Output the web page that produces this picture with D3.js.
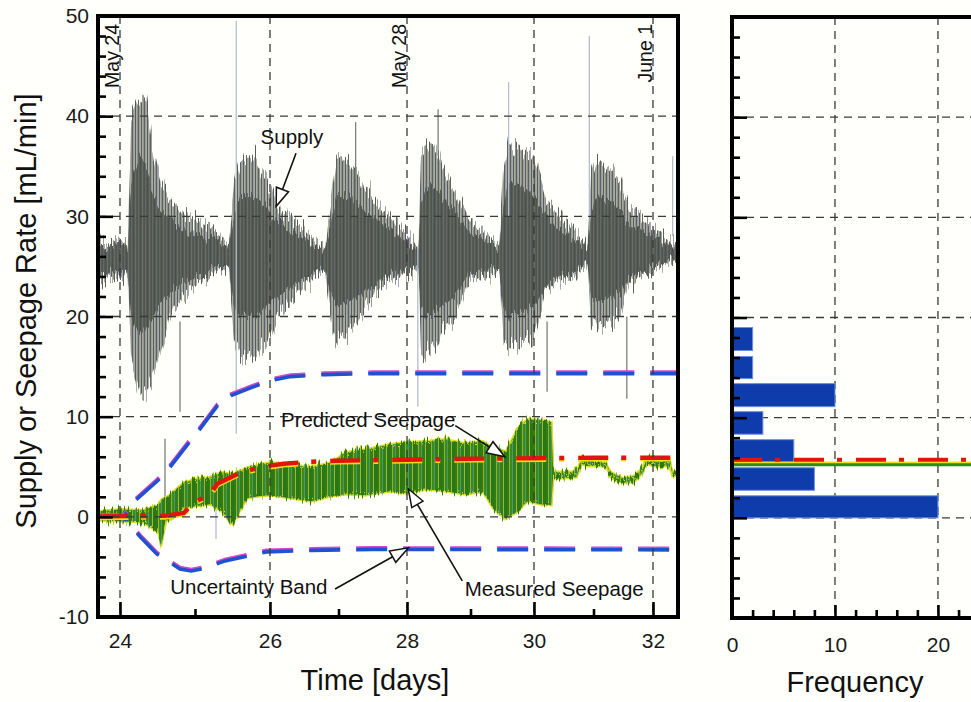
<!DOCTYPE html>
<html>
<head>
<meta charset="utf-8">
<script src="https://cdn.jsdelivr.net/npm/d3@7"></script>
<style>
  body { margin: 0; background: #fff; }
  svg { display: block; font-family: "Liberation Sans", Arial, sans-serif; }
</style>
</head>
<body>
<svg id="chart" width="971" height="702"></svg>
<script>
// ---- data ----
// supply rate (mL/min) vs time (days): outer envelope of the spikes and the dense core
var supplyT  = [23.71,23.85,24.0,24.1,24.15,24.25,24.35,24.45,24.55,24.7,24.85,25.05,25.2,25.35,25.45,25.52,25.6,25.8,25.95,26.1,26.3,26.45,26.65,26.8,26.9,26.97,27.15,27.4,27.7,27.9,28.1,28.18,28.22,28.3,28.45,28.55,28.75,28.95,29.2,29.45,29.52,29.6,29.8,30.0,30.2,30.45,30.7,30.9,30.96,31.05,31.3,31.45,31.6,31.8,32.03,32.3,32.42];
var supplyHi = [27.5,27.0,28.0,27.0,40.0,41.8,41.5,36.0,33.0,31.5,30.0,29.5,29.0,28.0,27.0,33.0,35.5,35.8,34.0,31.0,29.8,29.0,27.5,26.8,32.0,36.0,35.5,32.7,30.4,29.0,27.5,27.0,36.5,37.4,37.0,35.0,32.7,30.0,28.5,27.0,35.0,37.4,36.5,36.0,32.0,30.0,28.4,27.0,34.0,35.7,34.5,33.5,31.0,30.0,28.7,27.4,27.0];
var supplyLo = [23.0,24.0,23.5,24.5,15.0,12.2,12.5,14.0,17.0,20.5,22.0,23.4,24.0,24.7,25.0,18.0,16.5,16.0,17.0,19.8,21.5,22.7,24.0,24.8,19.0,17.8,18.2,21.0,23.4,24.0,24.5,25.0,16.5,16.0,17.0,18.5,19.5,23.4,24.0,24.6,17.5,16.8,17.5,18.0,22.7,23.5,24.0,25.4,19.5,18.8,19.5,20.0,23.4,24.0,24.7,25.7,25.5];
var coreHi   = [27.0,26.8,27.2,26.8,33.0,36.0,35.0,32.0,30.5,29.5,28.5,28.0,27.8,27.3,26.8,30.0,32.0,32.0,31.0,29.5,28.5,28.0,27.0,26.6,29.5,32.0,32.0,30.5,29.0,28.0,27.0,26.8,31.0,33.0,33.0,32.0,30.5,28.5,27.5,26.8,31.0,33.5,33.0,32.0,30.0,28.5,27.5,26.8,30.0,32.0,31.5,30.5,29.0,28.5,27.8,27.0,26.8];
var coreLo   = [24.0,24.5,24.3,24.8,20.0,18.0,19.0,20.0,21.5,22.5,23.5,24.0,24.5,25.0,25.2,21.0,20.0,20.0,21.0,22.0,23.0,23.5,24.5,25.0,22.0,21.0,21.5,22.5,24.0,24.5,25.0,25.2,21.0,20.0,20.5,21.0,22.0,24.0,24.5,25.0,21.0,20.0,20.5,21.0,23.0,24.0,24.5,25.5,22.0,21.5,22.0,22.5,24.0,24.5,25.0,25.8,25.8];
// isolated spikes: time, top, bottom
var spikeT   = [24.8,25.55,27.25,28.17,28.49,29.6,30.22,30.93,31.56,32.33,24.6,25.28];
var spikeTop = [19.5,49.5,39.4,27.0,40.7,43.4,19.5,48.0,20.0,36.0,7.8,4.5];
var spikeBot = [10.5,8.3,30.0,11.0,36.0,30.0,12.5,30.0,11.8,28.0,-1.2,-2.2];

// measured seepage envelope
var seepT  = [23.71,24.0,24.3,24.5,24.55,24.62,24.7,24.85,25.0,25.2,25.35,25.5,25.7,25.85,26.0,26.3,26.6,26.9,27.1,27.4,27.75,28.0,28.3,28.6,28.9,29.2,29.35,29.55,29.75,29.9,30.1,30.3,30.33,30.5,30.72,30.8,30.9,31.2,31.3,31.5,31.7,31.82,31.88,32.0,32.28,32.32,32.42];
var seepHi = [0.6,0.8,0.7,1.2,1.8,2.0,2.5,3.5,3.8,4.0,4.5,4.3,5.0,5.2,5.5,5.3,5.0,5.5,6.5,6.8,7.3,7.5,7.6,7.8,7.4,7.6,7.0,6.6,9.0,9.8,9.7,9.5,4.6,4.5,4.6,6.1,5.6,5.5,4.5,3.9,4.2,5.0,6.0,5.8,5.7,4.6,4.5];
var seepLo = [-0.4,-0.5,-0.6,-1.5,-2.9,-0.5,-0.2,0.8,1.0,1.2,0.5,-0.8,1.8,2.0,2.1,1.8,1.5,2.0,2.2,2.1,2.5,2.3,2.7,2.5,2.2,2.4,0.8,-0.3,0.5,1.5,1.2,1.1,3.8,3.8,3.9,5.2,5.0,5.0,3.8,3.3,3.5,4.3,5.3,5.0,5.0,4.0,4.0];

// predicted seepage
var predT = [23.71,24.6,24.85,25.0,25.2,25.3,25.6,25.9,26.2,26.6,27.0,28.0,29.0,30.0,31.0,32.42];
var predV = [0.05,0.1,0.4,1.5,2.2,3.3,4.4,5.0,5.3,5.5,5.6,5.7,5.8,5.85,5.9,5.9];

// uncertainty band
var bandUpT = [23.71,24.05,24.2,24.5,24.65,24.93,25.05,25.3,25.48,25.75,26.0,26.3,26.8,27.5,32.42];
var bandUpV = [0,0,1.6,3.6,4.8,7.5,8.6,11.1,12.1,12.9,13.6,14.0,14.2,14.3,14.3];
var bandLoT = [23.71,24.05,24.27,24.49,24.8,24.95,25.1,25.4,25.95,26.6,27.5,32.42];
var bandLoV = [0,0,-2.0,-3.7,-5.2,-5.4,-5.2,-4.4,-3.5,-3.35,-3.25,-3.3];

// histogram of seepage rate
var binLow   = [0, 2.75, 5.55, 8.35, 11.1, 13.9, 16.7];
var binHigh  = [2.2, 5.0, 7.8, 10.6, 13.4, 16.1, 19.0];
var binCount = [20, 8, 6, 3, 10, 2, 2];
var histPredMean = 5.8, histMeasMean = 5.3;

// ticks and labels
var xTicks = [24, 26, 28, 30, 32];
var xMinor = [25, 27, 29, 31];
var yTicks = [-10, 0, 10, 20, 30, 40, 50];
var yMinor = d3.range(-10, 51, 2).filter(function (v) { return v % 10 !== 0; });
var fTicks = [0, 10, 20];
var fMinor = [2, 4, 6, 8, 12, 14, 16, 18, 22];
var dateDay = [24, 28, 32];
var dateLab = ["May 24", "May 28", "June 1"];

// annotations: [text, textDay, textVal, anchor, fromDay, fromVal, tipDay, tipVal]
var notes = [
  ["Supply", 26.32, 37.2, "middle", 26.38, 36.3, 26.09, 31.0],
  ["Predicted Seepage", 26.16, 9.0, "start", 28.76, 9.1, 29.54, 6.0],
  ["Measured Seepage", 28.91, -7.9, "start", 28.87, -6.4, 28.02, 2.8],
  ["Uncertainty Band", 24.67, -7.7, "start", 26.95, -7.2, 28.02, -3.1]
];

// ---- scales ----
// the scanned time axis is slightly uneven, so calibrate on the printed ticks
var x = d3.scaleLinear().domain([23.71, 24, 26, 28, 30, 32, 32.42]).range([98, 120, 270, 407, 534, 653, 678]);
var y = d3.scaleLinear().domain([-10, 50]).range([617, 16]);
var yR = d3.scaleLinear().domain([-10, 50]).range([618, 17]);
var f = d3.scaleLinear().domain([0, 23.5]).range([732, 974]);

var svg = d3.select("#chart");
svg.append("rect").attr("width", 971).attr("height", 702).attr("fill", "#fffffb");

var defs = svg.append("defs");
defs.append("clipPath").attr("id", "clipL").append("rect")
  .attr("x", 98).attr("y", 16).attr("width", 580).attr("height", 601);

// streaky look of a densely sampled noisy trace (columns shifted up/down)
function streakFilter(id, freq, scale, seed) {
  var fl = defs.append("filter").attr("id", id).attr("x", 0).attr("y", "-20%").attr("width", 1).attr("height", "140%")
    .attr("color-interpolation-filters", "sRGB");
  fl.append("feTurbulence").attr("type", "fractalNoise").attr("baseFrequency", freq).attr("numOctaves", 2).attr("seed", seed).attr("result", "n");
  fl.append("feColorMatrix").attr("in", "n").attr("type", "matrix")
    .attr("values", "1 0 0 0 0  0 0 0 0 0.5  0 0 0 0 0  0 0 0 0 1").attr("result", "m");
  fl.append("feDisplacementMap").attr("in", "SourceGraphic").attr("in2", "m").attr("scale", scale)
    .attr("xChannelSelector", "G").attr("yChannelSelector", "R");
}
streakFilter("streakO", "0.6 0.004", 40, 3);
streakFilter("streakC", "0.45 0.01", 22, 7);
streakFilter("streakG", "0.5 0.01", 16, 5);

var pO = defs.append("pattern").attr("id", "texOuter").attr("patternUnits", "userSpaceOnUse")
  .attr("width", 6).attr("height", 40);
[[0, 1.6, "#5d625d"], [1.8, 1, "#8f94a2"], [3.0, 1.5, "#585d58"], [4.6, 0.7, "#a9ab89"], [5.3, 0.7, "#6a6f69"]]
  .forEach(function (s) { pO.append("rect").attr("x", s[0]).attr("width", s[1]).attr("height", 40).attr("fill", s[2]); });

var pS = defs.append("pattern").attr("id", "texSupply").attr("patternUnits", "userSpaceOnUse")
  .attr("width", 7).attr("height", 20);
[[0, 1.6, "#4b504b"], [1.6, 1, "#5d625c"], [2.6, 0.7, "#7c8176"], [3.3, 1.7, "#505550"], [5, 0.7, "#6e7380"], [5.7, 1.3, "#575c56"]]
  .forEach(function (s) { pS.append("rect").attr("x", s[0]).attr("width", s[1]).attr("height", 20).attr("fill", s[2]); });

var pG = defs.append("pattern").attr("id", "texSeep").attr("patternUnits", "userSpaceOnUse")
  .attr("width", 13).attr("height", 20);
[[0, 2.2, "#2e7c17"], [2.2, 0.7, "#c9cf2c"], [2.9, 2.6, "#3a8a1e"], [5.5, 0.6, "#5fa8c6"], [6.1, 3.1, "#327f1a"], [9.2, 0.8, "#b8c63a"], [10, 3, "#2b7715"]]
  .forEach(function (s) { pG.append("rect").attr("x", s[0]).attr("width", s[1]).attr("height", 20).attr("fill", s[2]); });

var gL = svg.append("g").attr("clip-path", "url(#clipL)");
var areaOuter = d3.area().x(function (d) { return x(d.t); }).y0(function (d) { return y(d.lo); }).y1(function (d) { return y(d.hi); });
var areaCore = d3.area().x(function (d) { return x(d.t); }).y0(function (d) { return y(d.cl); }).y1(function (d) { return y(d.ch); });

// supply
var supplyData = supplyT.map(function (t, i) { return { t: t, hi: supplyHi[i], lo: supplyLo[i], ch: coreHi[i], cl: coreLo[i] }; });
gL.append("g").attr("filter", "url(#streakO)").append("path").datum(supplyData)
  .attr("d", areaOuter).attr("fill", "url(#texOuter)");
var gCore = gL.append("g").attr("filter", "url(#streakC)");
gCore.append("path").datum(supplyData).attr("d", areaCore).attr("fill", "#575c57");
gCore.append("path").datum(supplyData).attr("d", areaCore).attr("fill", "url(#texSupply)");

var spikes = spikeT.map(function (t, i) { return { t: t, top: spikeTop[i], bot: spikeBot[i], i: i }; });
gL.selectAll(".spike").data(spikes).enter().append("line").attr("class", "spike")
  .attr("x1", function (d) { return x(d.t); }).attr("x2", function (d) { return x(d.t); })
  .attr("y1", function (d) { return y(d.top); }).attr("y2", function (d) { return y(d.bot); })
  .attr("stroke", function (d) { return d.i % 2 ? "#b8bccb" : "#7b807a"; }).attr("stroke-width", 1.3);

// measured seepage
var seepData = seepT.map(function (t, i) { return { t: t, hi: seepHi[i], lo: seepLo[i] }; });
gL.append("path").datum(seepData).attr("d", areaOuter)
  .attr("fill", "#358519").attr("stroke", "#dede30").attr("stroke-width", 1.4);
gL.append("g").attr("filter", "url(#streakG)").append("path").datum(seepData)
  .attr("d", areaOuter).attr("fill", "url(#texSeep)").attr("stroke", "#dede30").attr("stroke-width", 1);

// grid
var grid = svg.append("g").attr("stroke", "#3a3a3a").attr("stroke-width", 1.3).attr("stroke-dasharray", "8,6").attr("fill", "none");
grid.selectAll(".gx").data(xTicks).enter().append("line")
  .attr("x1", x).attr("x2", x).attr("y1", 16).attr("y2", 617);
grid.selectAll(".gy").data(yTicks.slice(1, -1)).enter().append("line")
  .attr("x1", 98).attr("x2", 678).attr("y1", y).attr("y2", y);

// uncertainty band
var lineXY = d3.line().x(function (d) { return x(d[0]); }).y(function (d) { return y(d[1]); });
[[bandUpT, bandUpV], [bandLoT, bandLoV]].forEach(function (b) {
  var pts = b[0].map(function (t, i) { return [t, b[1][i]]; });
  gL.append("path").datum(pts).attr("d", lineXY).attr("fill", "none")
    .attr("stroke", "#d548c8").attr("stroke-width", 4).attr("stroke-dasharray", "31,16")
    .attr("transform", "translate(0,-1.3)");
  gL.append("path").datum(pts).attr("d", lineXY).attr("fill", "none")
    .attr("stroke", "#1f52d2").attr("stroke-width", 3.6).attr("stroke-dasharray", "31,16");
});

// predicted seepage
var predPts = predT.map(function (t, i) { return [t, predV[i]]; });
gL.append("path").datum(predPts).attr("d", lineXY).attr("fill", "none")
  .attr("stroke", "#ecdf1c").attr("stroke-width", 4).attr("stroke-dasharray", "30,13,5,14")
  .attr("transform", "translate(0,1.8)");
gL.append("path").datum(predPts).attr("d", lineXY).attr("fill", "none")
  .attr("stroke", "#e2150e").attr("stroke-width", 4.4).attr("stroke-dasharray", "30,13,5,14");

// date labels
svg.selectAll(".date").data(dateDay).enter().append("text")
  .attr("transform", function (d) { return "translate(" + (x(d) - 1) + ",24) rotate(-90)"; })
  .attr("text-anchor", "end").attr("font-size", 19.5).attr("fill", "#111")
  .text(function (d, i) { return dateLab[i]; });

// annotations
function arrow(g, x1, y1, x2, y2) {
  var dx = x2 - x1, dy = y2 - y1, L = Math.hypot(dx, dy), ux = dx / L, uy = dy / L;
  var hl = 18, hw = 6.5, bx = x2 - ux * hl, by = y2 - uy * hl;
  g.append("line").attr("x1", x1).attr("y1", y1).attr("x2", bx).attr("y2", by)
    .attr("stroke", "#111").attr("stroke-width", 1.6);
  g.append("path").attr("d", "M" + x2 + "," + y2 + "L" + (bx - uy * hw) + "," + (by + ux * hw) + "L" + (bx + uy * hw) + "," + (by - ux * hw) + "Z")
    .attr("fill", "#fff").attr("stroke", "#111").attr("stroke-width", 1.5);
}
var gN = svg.append("g");
notes.forEach(function (n) {
  gN.append("text").attr("x", x(n[1])).attr("y", y(n[2])).attr("text-anchor", n[3])
    .attr("font-size", 20.5).attr("fill", "#111").text(n[0]);
  arrow(gN, x(n[4]), y(n[5]), x(n[6]), y(n[7]));
});

// ---- histogram panel ----
var gR = svg.append("g");
var gridR = gR.append("g").attr("stroke", "#3a3a3a").attr("stroke-width", 1.3).attr("stroke-dasharray", "8,6");
gridR.selectAll("line.v").data([10, 20]).enter().append("line")
  .attr("x1", f).attr("x2", f).attr("y1", 17).attr("y2", 618);
gridR.selectAll("line.h").data(yTicks.slice(1, -1)).enter().append("line")
  .attr("x1", 732).attr("x2", 971).attr("y1", yR).attr("y2", yR);

gR.selectAll(".bar").data(binCount).enter().append("rect")
  .attr("x", f(0)).attr("width", function (d) { return f(d) - f(0); })
  .attr("y", function (d, i) { return yR(binHigh[i]); })
  .attr("height", function (d, i) { return yR(binLow[i]) - yR(binHigh[i]); })
  .attr("fill", "#0e3caa").attr("stroke", "#6b8ee0").attr("stroke-width", 1);

gR.append("line").attr("x1", 732).attr("x2", 971).attr("y1", yR(histMeasMean) - 2).attr("y2", yR(histMeasMean) - 2)
  .attr("stroke", "#e6e01e").attr("stroke-width", 2.5);
gR.append("line").attr("x1", 732).attr("x2", 971).attr("y1", yR(histMeasMean)).attr("y2", yR(histMeasMean))
  .attr("stroke", "#2f8a1e").attr("stroke-width", 3);
gR.append("line").attr("x1", 732).attr("x2", 971).attr("y1", yR(histPredMean)).attr("y2", yR(histPredMean))
  .attr("stroke", "#e2150e").attr("stroke-width", 4).attr("stroke-dasharray", "30,13,5,14");

// ---- axes and frames ----
function styleAxis(g) {
  g.select(".domain").remove();
  g.selectAll(".tick line").attr("stroke", "#000").attr("stroke-width", 2.6);
  g.selectAll(".tick text").attr("font-size", 21).attr("fill", "#1a1a1a")
    .attr("font-family", "Liberation Sans, Arial, sans-serif");
}
var plain = function (d) { return String(d); };
svg.append("g").attr("transform", "translate(98,0)")
  .call(d3.axisLeft(y).tickValues(yTicks).tickSize(-15).tickPadding(9).tickFormat(plain)).call(styleAxis);
svg.append("g").attr("transform", "translate(98,0)")
  .call(d3.axisLeft(y).tickValues(yMinor).tickSize(-8).tickFormat("")).call(styleAxis);
svg.append("g").attr("transform", "translate(0,617)")
  .call(d3.axisBottom(x).tickValues(xTicks).tickSize(-15).tickPadding(16).tickFormat(plain)).call(styleAxis);
svg.append("g").attr("transform", "translate(0,617)")
  .call(d3.axisBottom(x).tickValues(xMinor).tickSize(-8).tickFormat("")).call(styleAxis);

svg.append("g").attr("transform", "translate(732,0)")
  .call(d3.axisLeft(yR).tickValues(yTicks).tickSize(-15).tickFormat("")).call(styleAxis);
svg.append("g").attr("transform", "translate(732,0)")
  .call(d3.axisLeft(yR).tickValues(yMinor).tickSize(-8).tickFormat("")).call(styleAxis);
svg.append("g").attr("transform", "translate(0,618)")
  .call(d3.axisBottom(f).tickValues(fTicks).tickSize(-13).tickPadding(19).tickFormat(plain)).call(styleAxis);
svg.append("g").attr("transform", "translate(0,618)")
  .call(d3.axisBottom(f).tickValues(fMinor).tickSize(-8).tickFormat("")).call(styleAxis);

svg.append("rect").attr("x", 98).attr("y", 16).attr("width", 580).attr("height", 601)
  .attr("fill", "none").attr("stroke", "#000").attr("stroke-width", 4);
svg.append("path").attr("d", "M975,17H732V618H975")
  .attr("fill", "none").attr("stroke", "#000").attr("stroke-width", 4);

// titles
svg.append("text").attr("transform", "translate(36,311) rotate(-90)").attr("text-anchor", "middle")
  .attr("font-size", 29).attr("fill", "#111").text("Supply or Seepage Rate [mL/min]");
svg.append("text").attr("x", 375).attr("y", 690).attr("text-anchor", "middle")
  .attr("font-size", 29).attr("fill", "#111").text("Time [days]");
svg.append("text").attr("x", 855).attr("y", 692).attr("text-anchor", "middle")
  .attr("font-size", 29).attr("fill", "#111").text("Frequency");
</script>
</body>
</html>
